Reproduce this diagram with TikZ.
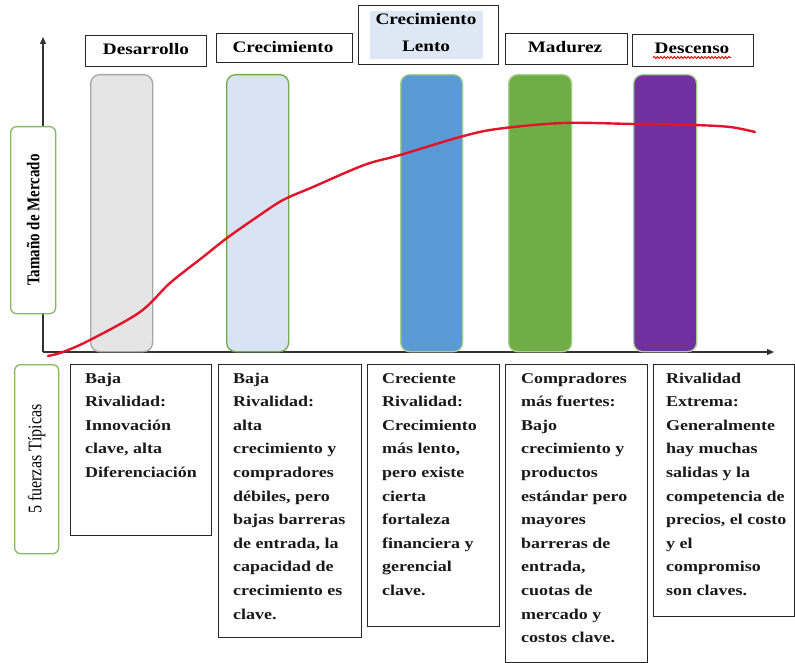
\documentclass[tikz,border=0pt]{standalone}
\usepackage{fontspec}
\usetikzlibrary{arrows.meta,decorations.pathmorphing}
\newfontfamily\bodyfont{Liberation Serif}[FakeStretch=1.2]
\newfontfamily\plainfont{Liberation Serif}
\definecolor{barGray}{HTML}{E5E5E5}
\definecolor{barGrayEdge}{HTML}{A6A6A6}
\definecolor{barLight}{HTML}{DAE3F3}
\definecolor{barBlue}{HTML}{5B9BD5}
\definecolor{barGreen}{HTML}{70AD47}
\definecolor{barPurple}{HTML}{7030A0}
\definecolor{edgeGreen}{HTML}{70AD47}
\definecolor{edgeLight}{HTML}{A9D18E}
\definecolor{lentoFill}{HTML}{DDE8F4}
\definecolor{curveRed}{HTML}{E3132B}
\tikzset{
  axis/.style={line width=1.2pt, draw=black!80, -{Triangle[length=7pt,width=6pt]}},
  bar/.style={rectangle, rounded corners=9pt, line width=1.3pt, minimum width=62pt, minimum height=277pt, anchor=north west, inner sep=0},
  hdr/.style={rectangle, draw=black!85, line width=1.4pt, fill=white, anchor=north west, inner sep=0},
  hdrtext/.style={font=\bodyfont\bfseries\fontsize{16}{27}\selectfont, align=center, inner sep=0},
  tbox/.style={rectangle, draw=black!85, line width=1.4pt, fill=white, anchor=north west, inner sep=0, minimum width=#1},
  body/.style={font=\bodyfont\bfseries\fontsize{15}{23.6}\selectfont, align=left, anchor=base west, inner sep=0, text=black!90},
  lbl/.style={rectangle, rounded corners=6pt, draw=edgeGreen!85, line width=1.3pt, fill=white, anchor=north west, inner sep=0, minimum width=45pt},
}
\begin{document}
\begin{tikzpicture}[x=1pt,y=-1pt]
\useasboundingbox (0,0) rectangle (795,663);
% axes
\coordinate (O) at (43,352);
\coordinate (ytop) at (43,37);
\coordinate (xend) at (774,352);
\draw[axis] (O) -- (ytop);
\draw[axis] (O) -- (xend);
% bars
\node[bar, fill=barGray, draw=barGrayEdge] (bar1) at (90,74) {};
\node[bar, fill=barLight, draw=edgeGreen] (bar2) at (226,74) {};
\node[bar, fill=barBlue, draw=edgeLight] (bar3) at (400,74) {};
\node[bar, fill=barGreen, draw=edgeLight, minimum width=63pt] (bar4) at (508,74) {};
\node[bar, fill=barPurple, draw=edgeLight, minimum width=63pt] (bar5) at (633,74) {};
% curve
\draw[curveRed, line width=2.4pt, line cap=round] plot[smooth, tension=0.55] coordinates {
 (48,356) (63,352) (90,340) (140,312) (170,283) (203,257) (227,238) (257,217) (283,200)
 (313,187) (347,172) (370,163) (400,155) (460,137) (497,129) (563,123) (633,124)
 (693,125) (730,127) (755,132)};
% left labels
\node[lbl, minimum height=187pt] (tam) at (10,126) {};
\node[rotate=90, font=\plainfont\bfseries\fontsize{15}{18}\selectfont, inner sep=0] (tamt) at (tam.center) {\scalebox{1}[1.2]{Tamaño de Mercado}};
\node[lbl, minimum height=189pt, minimum width=44pt] (fz) at (14,364) {};
\node[rotate=90, font=\plainfont\fontsize{16}{18}\selectfont, inner sep=0] (fzt) at (fz.center) {\scalebox{1}[1.2]{5 fuerzas Típicas}};
% headers
\node[hdr, minimum width=121pt, minimum height=31pt] (h1) at (85,35) {};
\node[hdrtext, anchor=base] (h1t) at (146,55) {Desarrollo};
\node[hdr, minimum width=136pt, minimum height=29pt] (h2) at (216,33) {};
\node[hdrtext, anchor=base] (h2t) at (283,53) {Crecimiento};
\node[hdr, minimum width=140pt, minimum height=59pt] (h3) at (358,5) {};
\node[rectangle, fill=lentoFill, anchor=north west, minimum width=113pt, minimum height=48pt, inner sep=0] (h3f) at (370,11) {};
\node[hdrtext, anchor=base] (h3t) at (426,52) {Crecimiento\\Lento};
\node[hdr, minimum width=122pt, minimum height=31pt] (h4) at (505,33) {};
\node[hdrtext, anchor=base] (h4t) at (565,53) {Madurez};
\node[hdr, minimum width=121pt, minimum height=32pt] (h5) at (632,34) {};
\node[hdrtext, anchor=base] (h5t) at (692,54) {Descenso};
\coordinate (wavyA) at (653,57.5);
\coordinate (wavyB) at (731,57.5);
\draw[red!90!black, line width=0.9pt, decorate, decoration={snake, amplitude=1pt, segment length=3.4pt}] (wavyA) -- (wavyB);
% bottom boxes (text anchored at the baseline of its last line)
\node[tbox=141pt, minimum height=171pt] (b1) at (70,364) {};
\node[body] (b1t) at (85,477.4) {Baja\\Rivalidad:\\Innovación\\clave, alta\\Diferenciación};
\node[tbox=143pt, minimum height=273pt] (b2) at (218,364) {};
\node[body] (b2t) at (233,619) {Baja\\Rivalidad:\\alta\\crecimiento y\\compradores\\débiles, pero\\bajas barreras\\de entrada, la\\capacidad de\\crecimiento es\\clave.};
\node[tbox=132pt, minimum height=262pt] (b3) at (367,364) {};
\node[body] (b3t) at (382,595.4) {Creciente\\Rivalidad:\\Crecimiento\\más lento,\\pero existe\\cierta\\fortaleza\\financiera y\\gerencial\\clave.};
\node[tbox=142pt, minimum height=298pt] (b4) at (505,364) {};
\node[body] (b4t) at (521,642.6) {Compradores\\más fuertes:\\Bajo\\crecimiento y\\productos\\estándar pero\\mayores\\barreras de\\entrada,\\cuotas de\\mercado y\\costos clave.};
\node[tbox=141pt, minimum height=252pt] (b5) at (653,364) {};
\node[body] (b5t) at (666,595.4) {Rivalidad\\Extrema:\\Generalmente\\hay muchas\\salidas y la\\competencia de\\precios, el costo\\y el\\compromiso\\son claves.};
\end{tikzpicture}
\end{document}
